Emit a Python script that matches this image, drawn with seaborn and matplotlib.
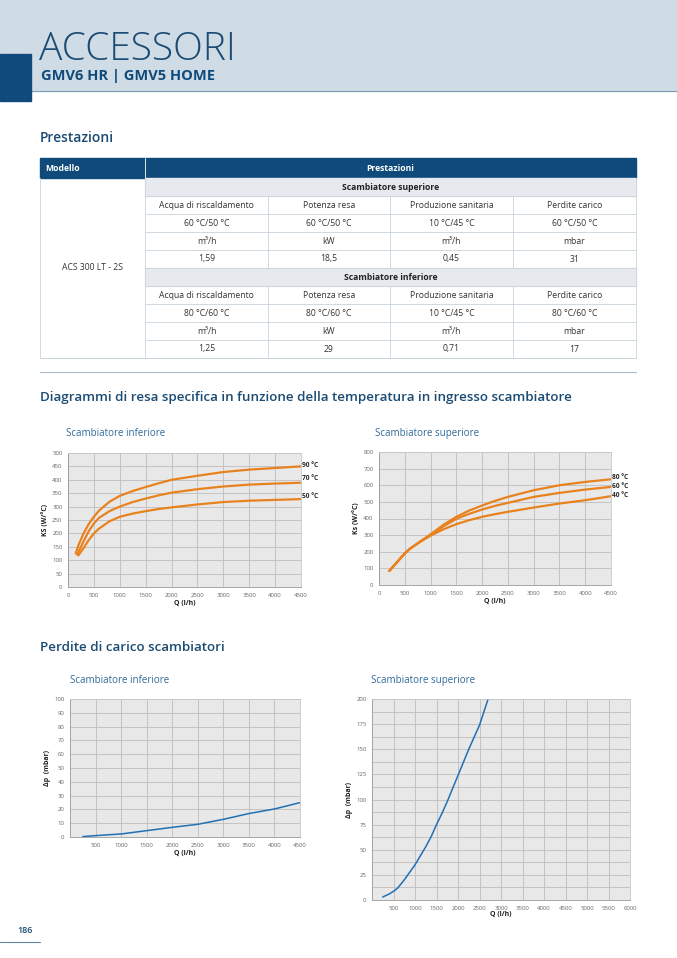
import numpy as np
import pandas as pd
import seaborn as sns
import matplotlib.pyplot as plt
from matplotlib.patches import Rectangle

# dati letti dai diagrammi
# resa specifica - scambiatore inferiore
q_inf_90 = [150, 200, 300, 400, 500, 600, 800, 1000, 1250, 1500, 1750, 2000, 2500, 3000, 3500, 4000, 4500]
ks_inf_90 = [125, 155, 200, 235, 262, 285, 318, 340, 358, 373, 387, 400, 415, 429, 438, 444, 450]
q_inf_70 = [180, 250, 300, 400, 500, 600, 800, 1000, 1250, 1500, 1750, 2000, 2500, 3000, 3500, 4000, 4500]
ks_inf_70 = [120, 150, 170, 208, 237, 258, 283, 300, 317, 330, 342, 352, 365, 375, 382, 386, 389]
q_inf_50 = [200, 300, 400, 500, 600, 800, 1000, 1250, 1500, 1750, 2000, 2500, 3000, 3500, 4000, 4500]
ks_inf_50 = [118, 145, 175, 200, 218, 245, 262, 274, 283, 291, 297, 308, 317, 322, 325, 328]

# resa specifica - scambiatore superiore
q_sup = [200, 300, 400, 500, 600, 800, 1000, 1250, 1500, 1750, 2000, 2250, 2500, 3000, 3500, 4000, 4500]
ks_sup_80 = [85, 120, 155, 190, 218, 262, 305, 362, 410, 448, 478, 506, 530, 570, 600, 620, 636]
ks_sup_60 = [85, 120, 155, 190, 218, 261, 300, 353, 398, 428, 454, 476, 494, 530, 554, 574, 590]
ks_sup_40 = [85, 120, 155, 190, 218, 260, 297, 335, 366, 390, 410, 426, 440, 466, 490, 510, 534]

# perdite di carico
q_dp_inf = [250, 500, 1000, 1500, 2000, 2500, 3000, 3500, 4000, 4500]
dp_inf = [0.3, 1.0, 2.2, 4.6, 7.0, 9.2, 12.8, 17.0, 20.3, 24.9]
q_dp_sup = [250, 400, 500, 600, 750, 900, 1000, 1125, 1250, 1375, 1500, 1625, 1750,
            1875, 2000, 2125, 2250, 2375, 2500, 2600, 2700]
dp_sup = [3, 6, 8.6, 12, 20, 29, 35, 44, 53, 63, 75, 86, 98, 111, 124, 137, 150, 162, 174, 187, 200]

# tabella
col_headers = ["Acqua di riscaldamento", "Potenza resa", "Produzione sanitaria", "Perdite carico"]
sup_temps = ["60 °C/50 °C", "60 °C/50 °C", "10 °C/45 °C", "60 °C/50 °C"]
inf_temps = ["80 °C/60 °C", "80 °C/60 °C", "10 °C/45 °C", "80 °C/60 °C"]
units = ["m³/h", "kW", "m³/h", "mbar"]
sup_values = ["1,59", "18,5", "0,45", "31"]
inf_values = ["1,25", "29", "0,71", "17"]

W, H = 677, 958
NAVY = "#0f4a7a"
TITLE = "#1b4b73"
SUB = "#2f6a9a"
ORANGE = "#e8821e"
BLUE = "#2070b4"

sns.set_theme(style="darkgrid", rc={
    "axes.facecolor": "#e8e8e8", "grid.color": "#bdbdbd", "grid.linewidth": 0.6,
    "axes.edgecolor": "#c8c8c8", "axes.linewidth": 0.6,
    "xtick.color": "#666666", "ytick.color": "#666666",
    "lines.solid_joinstyle": "round", "lines.solid_capstyle": "round",
})
plt.rcParams["font.family"] = ["Open Sans", "DejaVu Sans"]

fig = plt.figure(figsize=(W / 100, H / 100), dpi=100)
bg = fig.add_axes([0, 0, 1, 1])
bg.set_xlim(0, W)
bg.set_ylim(H, 0)
bg.axis("off")

# intestazione
bg.add_patch(Rectangle((0, 0), W, 91, color="#cfdce6", zorder=0))
bg.plot([0, W], [91, 91], color="#7f9db5", lw=0.8)
bg.add_patch(Rectangle((0, 54), 31, 47, color=NAVY, zorder=2))
bg.text(39, 60, "ACCESSORI", fontsize=28, fontweight="light", color=TITLE, va="baseline")
bg.text(41, 80, "GMV6 HR | GMV5 HOME", fontsize=10.5, fontweight="bold", color=NAVY, va="baseline")

bg.text(40, 142, "Prestazioni", fontsize=10, fontweight="semibold", color=TITLE, va="baseline")

# tabella
x0, x1, xm = 40, 636, 145
cols = [145, 268, 390, 513, 636]
line_c = "#c9d3db"
bg.add_patch(Rectangle((x0, 158), x1 - x0, 20, color=NAVY))
bg.plot([xm, xm], [158, 178], color="white", lw=0.6)
bg.text(45, 168, "Modello", fontsize=6.2, fontweight="bold", color="white", va="center")
bg.text((xm + x1) / 2, 168, "Prestazioni", fontsize=6.2, fontweight="bold", color="white",
        va="center", ha="center")
rows = [None, col_headers, sup_temps, units, sup_values,
        None, col_headers, inf_temps, units, inf_values]
sections = ["Scambiatore superiore", "Scambiatore inferiore"]
for i, r in enumerate(rows):
    top = 178 + 18 * i
    if r is None:
        bg.add_patch(Rectangle((xm, top), x1 - xm, 18, color="#e6eaee"))
        bg.text((xm + x1) / 2, top + 9, sections[i // 5], fontsize=6.2, fontweight="bold",
                ha="center", va="center", color="#222222")
    else:
        for j, t in enumerate(r):
            bg.text((cols[j] + cols[j + 1]) / 2, top + 9, t, fontsize=6.2, ha="center",
                    va="center", color="#333333")
        for c in cols[1:-1]:
            bg.plot([c, c], [top, top + 18], color=line_c, lw=0.6)
    bg.plot([xm, x1], [top + 18, top + 18], color=line_c, lw=0.6)
bg.plot([x0, x0, x1, x1], [178, 358, 358, 178], color=line_c, lw=0.6)
bg.plot([xm, xm], [178, 358], color=line_c, lw=0.6)
bg.plot([x0, xm], [358, 358], color=line_c, lw=0.6)
bg.text((x0 + xm) / 2, 268, "ACS 300 LT - 2S", fontsize=6.2, ha="center", va="center",
        color="#333333")

bg.plot([40, 636], [372, 372], color="#a9bccb", lw=0.8)
bg.text(40, 401, "Diagrammi di resa specifica in funzione della temperatura in ingresso scambiatore",
        fontsize=9.6, fontweight="semibold", color=TITLE, va="baseline")
bg.text(40, 651, "Perdite di carico scambiatori", fontsize=9.6, fontweight="semibold",
        color=TITLE, va="baseline")
bg.text(66, 436, "Scambiatore inferiore", fontsize=7, color=SUB, va="baseline")
bg.text(375, 436, "Scambiatore superiore", fontsize=7, color=SUB, va="baseline")
bg.text(70, 683, "Scambiatore inferiore", fontsize=7, color=SUB, va="baseline")
bg.text(371, 683, "Scambiatore superiore", fontsize=7, color=SUB, va="baseline")

bg.text(25, 933, "186", fontsize=6.5, fontweight="semibold", color=TITLE, ha="center", va="baseline")
bg.plot([0, 40], [942, 942], color="#5f86a8", lw=0.8)


def add_ax(l, t, r, b):
    return fig.add_axes([l / W, 1 - b / H, (r - l) / W, (b - t) / H])


def style(ax, xlim, xticks, ylim, yticks, xlabel, ylabel):
    ax.set_xlim(*xlim)
    ax.set_ylim(*ylim)
    ax.set_xticks(xticks)
    ax.set_yticks(yticks)
    ax.tick_params(labelsize=4.3, length=2, width=0.5, pad=2, color="#888888")
    ax.set_xlabel(xlabel, fontsize=5, fontweight="bold", labelpad=2, color="#222222")
    ax.set_ylabel(ylabel, fontsize=5, fontweight="bold", labelpad=2, color="#222222")
    for s in ax.spines.values():
        s.set_visible(True)
    ax.spines["left"].set_color("#999999")
    ax.spines["bottom"].set_color("#999999")
    ax.grid(True, which="both")


def long_df(qs, vals, names):
    parts = [pd.DataFrame({"q": q, "v": v, "serie": n}) for q, v, n in zip(qs, vals, names)]
    return pd.concat(parts, ignore_index=True)


# diagramma 1
ax1 = add_ax(68, 453, 301, 587)
d1 = long_df([q_inf_90, q_inf_70, q_inf_50], [ks_inf_90, ks_inf_70, ks_inf_50],
             ["90 °C", "70 °C", "50 °C"])
sns.lineplot(data=d1, x="q", y="v", hue="serie", palette=[ORANGE] * 3, lw=1.6, ax=ax1,
             legend=False)
style(ax1, (0, 4500), range(0, 4501, 500), (0, 500), range(0, 501, 50), "Q (l/h)", "KS (W/°C)")
for lab, y in zip(["90 °C", "70 °C", "50 °C"], [455, 403, 336]):
    ax1.text(4520, y, lab, fontsize=4.8, fontweight="bold", va="center", clip_on=False)

# diagramma 2
ax2 = add_ax(379, 452, 611, 585)
d2 = long_df([q_sup] * 3, [ks_sup_80, ks_sup_60, ks_sup_40], ["80 °C", "60 °C", "40 °C"])
sns.lineplot(data=d2, x="q", y="v", hue="serie", palette=[ORANGE] * 3, lw=1.6, ax=ax2,
             legend=False)
style(ax2, (0, 4500), range(0, 4501, 500), (0, 800), range(0, 801, 100), "Q (l/h)", "Ks (W/°C)")
for lab, y in zip(["80 °C", "60 °C", "40 °C"], [648, 594, 540]):
    ax2.text(4520, y, lab, fontsize=4.8, fontweight="bold", va="center", clip_on=False)

# diagramma 3
ax3 = add_ax(70, 699, 300, 837)
sns.lineplot(x=q_dp_inf, y=dp_inf, color=BLUE, lw=1.1, ax=ax3)
style(ax3, (0, 4500), range(500, 4501, 500), (0, 100), range(0, 101, 10), "Q (l/h)", "Δp  (mbar)")

# diagramma 4
ax4 = add_ax(372, 699, 630, 900)
sns.lineplot(x=q_dp_sup, y=dp_sup, color=BLUE, lw=1.1, ax=ax4)
style(ax4, (0, 6000), range(500, 6001, 500), (0, 200), range(0, 201, 25), "Q (l/h)", "Δp  (mbar)")
ax4.set_yticks(np.arange(12.5, 200, 25), minor=True)
ax4.tick_params(which="minor", length=0)
ax4.xaxis.labelpad = 0

fig.savefig("out.png", dpi=100)
